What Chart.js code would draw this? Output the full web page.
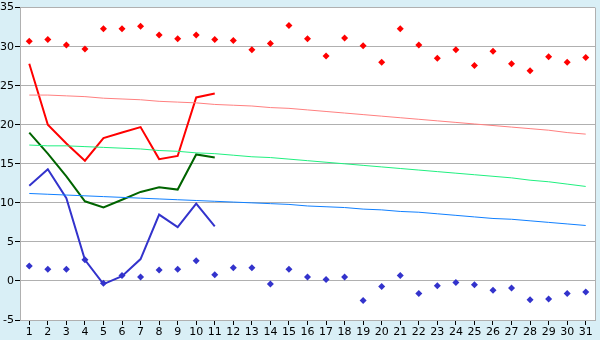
<!DOCTYPE html>
<html>
<head>
<meta charset="utf-8">
<script src="https://cdn.jsdelivr.net/npm/chart.js@4/dist/chart.umd.min.js"></script>
<style>
html,body{margin:0;padding:0;background:#d9eff6;}
#wrap{width:600px;height:340px;}
</style>
</head>
<body>
<div id="wrap"><canvas id="c" width="600" height="340"></canvas></div>
<script>
const days = ["1","2","3","4","5","6","7","8","9","10","11","12","13","14","15","16","17","18","19","20","21","22","23","24","25","26","27","28","29","30","31"];
const yTicks = [-5,0,5,10,15,20,25,30,35];

const recordMax = [30.7,30.9,30.2,29.7,32.3,32.3,32.6,31.5,31.0,31.5,30.9,30.8,29.6,30.4,32.7,31.0,28.8,31.1,30.1,28.0,32.3,30.2,28.5,29.6,27.6,29.4,27.8,26.9,28.7,28.0,28.6];
const recordMin = [1.9,1.5,1.5,2.7,-0.3,0.7,0.5,1.4,1.5,2.6,0.8,1.7,1.7,-0.4,1.5,0.5,0.2,0.5,-2.5,-0.7,0.7,-1.6,-0.6,-0.2,-0.5,-1.2,-0.9,-2.4,-2.3,-1.6,-1.4];

const obsMax = [27.8,20.0,17.6,15.4,18.3,19.0,19.7,15.6,16.0,23.5,24.0];
const obsMean = [19.0,16.3,13.4,10.2,9.4,10.4,11.4,12.0,11.7,16.2,15.8];
const obsMin = [12.2,14.3,10.6,2.7,-0.4,0.6,2.8,8.5,6.9,9.9,7.0];

const normMax = [23.8,23.8,23.7,23.6,23.4,23.3,23.2,23.0,22.9,22.8,22.6,22.5,22.4,22.2,22.1,21.9,21.7,21.5,21.3,21.1,20.9,20.7,20.5,20.3,20.1,19.9,19.7,19.5,19.3,19.0,18.8];
const normMean = [17.4,17.3,17.3,17.2,17.1,17.0,16.9,16.7,16.6,16.4,16.3,16.1,15.9,15.8,15.6,15.4,15.2,15.0,14.8,14.6,14.4,14.2,14.0,13.8,13.6,13.4,13.2,12.9,12.7,12.4,12.1];
const normMin = [11.2,11.1,11.0,10.9,10.8,10.7,10.6,10.5,10.4,10.3,10.2,10.1,10.0,9.9,9.8,9.6,9.5,9.4,9.2,9.1,8.9,8.8,8.6,8.4,8.2,8.0,7.9,7.7,7.5,7.3,7.1];

const bgPlugin = {
  id: 'bg',
  beforeDraw(chart) {
    const {ctx, chartArea: a} = chart;
    ctx.save();
    ctx.fillStyle = '#d9eff6';
    ctx.fillRect(0, 0, chart.width, chart.height);
    ctx.fillStyle = '#ffffff';
    ctx.fillRect(a.left, a.top, a.right - a.left, a.bottom - a.top);
    ctx.restore();
  },
  afterDraw(chart) {
    const {ctx, chartArea: a} = chart;
    ctx.save();
    ctx.strokeStyle = '#b0b0b0';
    ctx.lineWidth = 1;
    ctx.beginPath();
    ctx.moveTo(Math.round(a.right) + 0.5, a.top);
    ctx.lineTo(Math.round(a.right) + 0.5, a.bottom);
    ctx.stroke();
    ctx.restore();
  }
};

const lineDs = (data, color, width) => ({
  type: 'line', data, borderColor: color, backgroundColor: color,
  borderWidth: width, pointRadius: 0, tension: 0, fill: false
});
const dotDs = (data, color) => ({
  type: 'line', data, showLine: false, borderColor: color, backgroundColor: color,
  pointStyle: 'rectRot', pointRadius: 3.5, pointBorderWidth: 0
});

new Chart(document.getElementById('c'), {
  type: 'line',
  data: {
    labels: days,
    datasets: [
      lineDs(normMax, '#ff8080', 1),
      lineDs(normMean, '#20f080', 1),
      lineDs(normMin, '#1080ff', 1),
      lineDs(obsMax, '#ff0000', 2),
      lineDs(obsMean, '#006400', 2),
      lineDs(obsMin, '#3333cc', 2),
      dotDs(recordMax, '#ff0000'),
      dotDs(recordMin, '#3333cc')
    ]
  },
  options: {
    responsive: false,
    animation: false,
    layout: {padding: {top: 5, right: 5, left: 0, bottom: 0}},
    plugins: {legend: {display: false}, tooltip: {enabled: false}},
    scales: {
      x: {
        type: 'category',
        offset: true,
        grid: {display: true, drawOnChartArea: false, offset: false, tickLength: 5, tickColor: '#000000'},
        border: {color: '#b0b0b0'},
        ticks: {autoSkip: false, maxRotation: 0, color: '#000000', padding: 1, font: {family: 'DejaVu Sans', size: 11}},
        afterFit(s) { s.height = 20; }
      },
      y: {
        min: -5, max: 35,
        afterBuildTicks(s) { s.ticks = yTicks.map(v => ({value: v})); },
        grid: {color: '#b0b0b0', tickLength: 5, tickColor: '#000000'},
        border: {color: '#b0b0b0'},
        ticks: {color: '#000000', padding: 1, font: {family: 'DejaVu Sans', size: 11}},
        afterFit(s) { s.width = 20; }
      }
    }
  },
  plugins: [bgPlugin]
});
</script>
</body>
</html>
